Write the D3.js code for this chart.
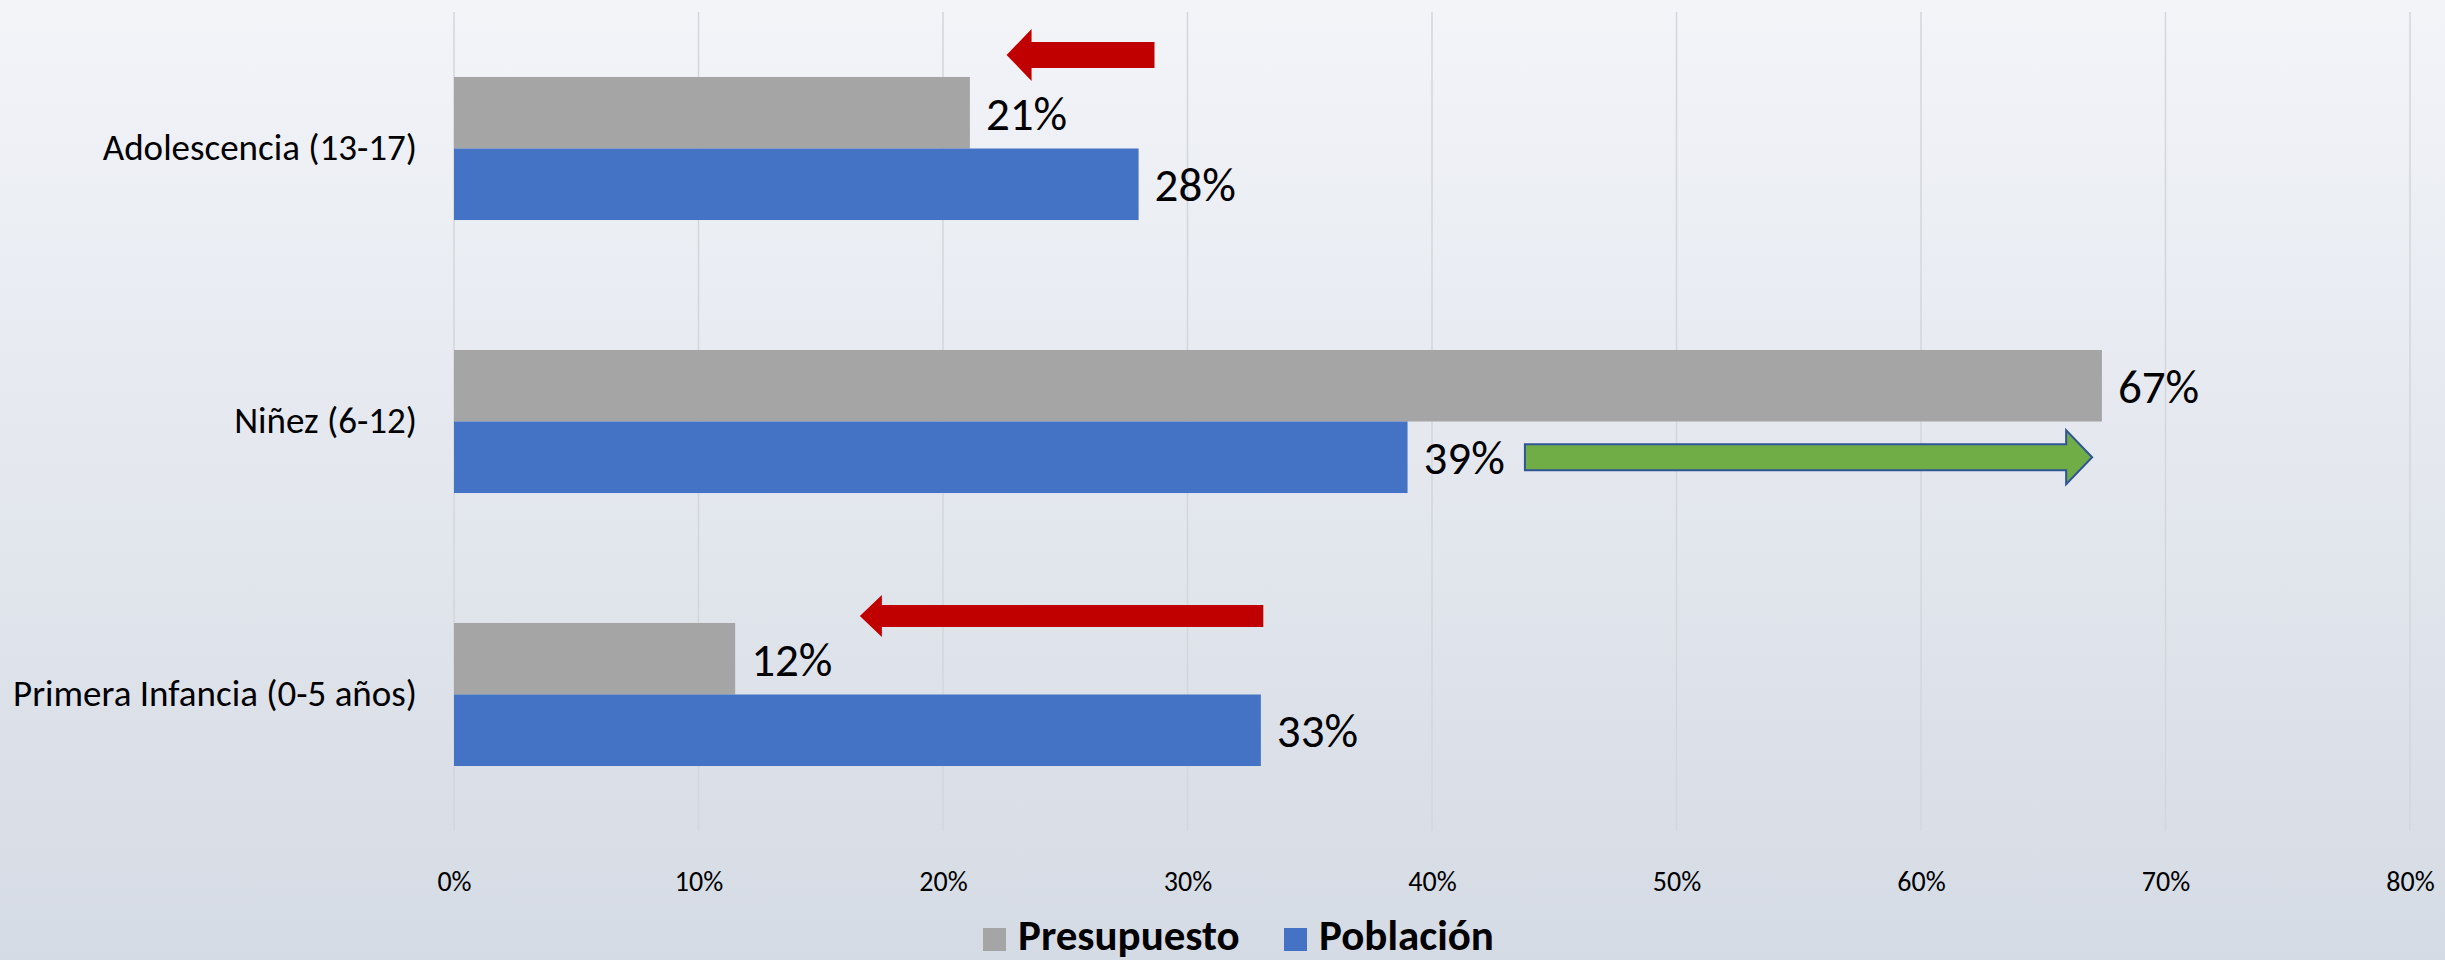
<!DOCTYPE html>
<html>
<head>
<meta charset="utf-8">
<script src="https://cdn.jsdelivr.net/npm/d3@7"></script>
<style>
  html, body { margin: 0; padding: 0; }
  body { width: 2445px; height: 960px; overflow: hidden; }
  svg { display: block; font-family: Carlito, Calibri, Lato, sans-serif; }
</style>
</head>
<body>
<div id="graph"></div>
<script>
const categories = ['Adolescencia (13-17)', 'Niñez (6-12)', 'Primera Infancia (0-5 años)'],
      seriesNames = ['Presupuesto', 'Población'],
      presupuesto = [0.211, 0.674, 0.115],
      poblacion = [0.28, 0.39, 0.33],
      labels = [['21%', '28%'], ['67%', '39%'], ['12%', '33%']],
      xTicks = [0, 0.1, 0.2, 0.3, 0.4, 0.5, 0.6, 0.7, 0.8],
      xTickLabels = ['0%', '10%', '20%', '30%', '40%', '50%', '60%', '70%', '80%']

// arrows drawn on top of the bars, in data units (from -> to)
const arrowCats = ['Adolescencia (13-17)', 'Niñez (6-12)', 'Primera Infancia (0-5 años)'],
      arrowFrom = [0.2865, 0.438, 0.331],
      arrowTo = [0.226, 0.670, 0.166]

const SIZE = Object.freeze({
  WIDTH: 2445,
  HEIGHT: 960,
  LEFT: 454,
  RIGHT: 35,
  TOP: 12,
  BOTTOM: 129
})
const COLORS = Object.freeze({
  Presupuesto: '#A5A5A5',
  Población: '#4472C4',
  red: '#C00000',
  green: '#70AD47',
  greenStroke: '#2F5597',
  grid: '#D3D6DB',
  text: '#000000'
})

const svg = d3.select('#graph')
  .append('svg')
  .attr('width', SIZE.WIDTH)
  .attr('height', SIZE.HEIGHT)

const defs = svg.append('defs')
const grad = defs.append('linearGradient')
  .attr('id', 'bg')
  .attr('x1', 0).attr('y1', 0).attr('x2', 0).attr('y2', 1)
grad.append('stop').attr('offset', '0%').attr('stop-color', '#F2F4F8')
grad.append('stop').attr('offset', '100%').attr('stop-color', '#D5DBE4')

svg.append('rect')
  .attr('width', SIZE.WIDTH)
  .attr('height', SIZE.HEIGHT)
  .attr('fill', 'url(#bg)')

const x = d3.scaleLinear()
  .domain([0, 0.8])
  .range([SIZE.LEFT, SIZE.WIDTH - SIZE.RIGHT])

const y = d3.scaleBand()
  .domain(categories)
  .range([SIZE.TOP, SIZE.HEIGHT - SIZE.BOTTOM])
  .paddingInner(0.476)
  .paddingOuter(0.238)

const ySub = d3.scaleBand()
  .domain(seriesNames)
  .range([0, y.bandwidth()])

// gridlines
svg.append('g')
  .selectAll('line')
  .data(xTicks)
  .join('line')
  .attr('x1', d => x(d)).attr('x2', d => x(d))
  .attr('y1', SIZE.TOP).attr('y2', SIZE.HEIGHT - SIZE.BOTTOM)
  .attr('stroke', COLORS.grid)
  .attr('stroke-width', 1.5)

// x axis labels
const xAxis = d3.axisBottom(x)
  .tickValues(xTicks)
  .tickFormat((d, i) => xTickLabels[i])
  .tickSize(0)
  .tickPadding(40)
const gx = svg.append('g')
  .attr('transform', `translate(0, ${SIZE.HEIGHT - SIZE.BOTTOM})`)
  .call(xAxis)
gx.select('.domain').remove()
gx.selectAll('text')
  .style('font-size', '28px')
  .style('font-family', 'Carlito, Calibri, Lato, sans-serif')
  .attr('fill', COLORS.text)

// y axis labels
const yAxis = d3.axisLeft(y)
  .tickSize(0)
  .tickPadding(37)
const gy = svg.append('g')
  .attr('transform', `translate(${SIZE.LEFT}, 0)`)
  .call(yAxis)
gy.select('.domain').remove()
gy.selectAll('text')
  .style('font-size', '37px')
  .style('font-family', 'Carlito, Calibri, Lato, sans-serif')
  .attr('fill', COLORS.text)

// bars
const rows = categories.map((c, i) => ({
  cat: c,
  values: [
    { key: 'Presupuesto', value: presupuesto[i], label: labels[i][0] },
    { key: 'Población', value: poblacion[i], label: labels[i][1] }
  ]
}))

const groups = svg.append('g')
  .selectAll('g')
  .data(rows)
  .join('g')
  .attr('transform', d => `translate(0, ${y(d.cat)})`)

groups.selectAll('rect')
  .data(d => d.values)
  .join('rect')
  .attr('x', x(0))
  .attr('y', d => ySub(d.key))
  .attr('width', d => x(d.value) - x(0))
  .attr('height', ySub.bandwidth())
  .attr('fill', d => COLORS[d.key])

groups.selectAll('text')
  .data(d => d.values)
  .join('text')
  .attr('x', d => x(d.value) + 16)
  .attr('y', d => ySub(d.key) + ySub.bandwidth() / 2)
  .attr('dy', '0.36em')
  .style('font-size', '47px')
  .attr('fill', COLORS.text)
  .text(d => d.label)

// block arrows
const arrows = arrowCats.map((c, i) => ({
  cat: c,
  from: arrowFrom[i],
  to: arrowTo[i],
  green: arrowTo[i] > arrowFrom[i]
}))

const arrowPath = d => {
  const dir = d.to > d.from ? 1 : -1
  const x0 = x(d.from), x1 = x(d.to)
  // vertical placement relative to the bar group
  let cy, shaft, head, headLen
  if (d.green) {
    cy = y(d.cat) + ySub('Población') + ySub.bandwidth() / 2
    shaft = 13; head = 27; headLen = 26
  } else if (d.cat === categories[0]) {
    cy = y(d.cat) - 22
    shaft = 13; head = 26; headLen = 25
  } else {
    cy = y(d.cat) - 7
    shaft = 11; head = 21; headLen = 22
  }
  const xb = x1 - dir * headLen
  return d3.line()([
    [x0, cy - shaft], [xb, cy - shaft], [xb, cy - head], [x1, cy],
    [xb, cy + head], [xb, cy + shaft], [x0, cy + shaft]
  ]) + 'Z'
}

svg.append('g')
  .selectAll('path')
  .data(arrows)
  .join('path')
  .attr('d', arrowPath)
  .attr('fill', d => d.green ? COLORS.green : COLORS.red)
  .attr('stroke', d => d.green ? COLORS.greenStroke : 'none')
  .attr('stroke-width', 2)

// legend
const legend = svg.append('g')
  .attr('transform', 'translate(983, 928)')
const legendX = [0, 301]
const lg = legend.selectAll('g')
  .data(seriesNames)
  .join('g')
  .attr('transform', (d, i) => `translate(${legendX[i]}, 0)`)
lg.append('rect')
  .attr('width', 23)
  .attr('height', 23)
  .attr('fill', d => COLORS[d])
lg.append('text')
  .attr('x', 35)
  .attr('y', 22)
  .style('font-size', '43px')
  .style('font-weight', 'bold')
  .attr('fill', COLORS.text)
  .text(d => d)
</script>
</body>
</html>
